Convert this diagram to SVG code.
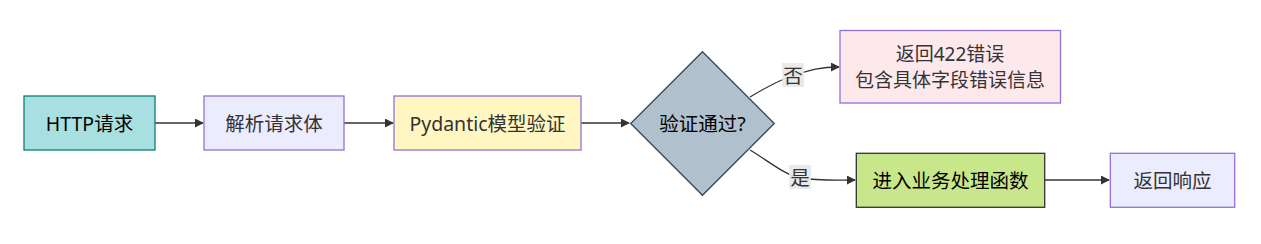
<svg xmlns="http://www.w3.org/2000/svg" width="1261" height="244" viewBox="0 0 1261 244">
<defs>
<marker id="arr" viewBox="0 0 10 10" refX="9" refY="5" markerWidth="9" markerHeight="9" markerUnits="userSpaceOnUse" orient="auto"><path d="M0,0 L10,5 L0,10 z" fill="#333"/></marker>
<style>
text{font-family:"Noto Sans","Noto Sans CJK SC",sans-serif;font-size:19.5px;fill:#333;text-anchor:middle;dominant-baseline:central}
.e{fill:none;stroke:#333;stroke-width:1.3;marker-end:url(#arr)}
.lb{fill:#e8e8e8;opacity:0.9}
</style>
</defs>
<rect width="1261" height="244" fill="#fff"/>
<g id="edges">
<path class="e" d="M155,123 L203,123"/>
<path class="e" d="M344,123 L393,123"/>
<path class="e" d="M581,123 L629,123"/>
<path class="e" d="M750,97 C770,85 785,78 795,75 C810,70 820,67 839,67"/>
<path class="e" d="M750,150 C770,162 785,175 800,178 C820,181 835,180 855,180"/>
<path class="e" d="M1045,180 L1109,180"/>
<rect class="lb" x="782" y="63" width="22" height="24"/>
<text x="793" y="75">否</text>
<rect class="lb" x="789" y="165" width="22" height="24"/>
<text x="800" y="177">是</text>
</g>
<g id="n1"><rect x="24" y="96" width="131" height="54" fill="#a8dfe0" stroke="#0e7c7b" stroke-width="1.3"/><text x="89.5" y="123" style="fill:#000">HTTP请求</text></g>
<g id="n2"><rect x="204" y="96" width="140" height="54" fill="#ececff" stroke="#9370db" stroke-width="1.3"/><text x="274" y="123">解析请求体</text></g>
<g id="n3"><rect x="394" y="96" width="187" height="54" fill="#fff6c2" stroke="#9370db" stroke-width="1.3"/><text x="487.5" y="123">Pydantic模型验证</text></g>
<g id="n4"><polygon points="702.5,51.7 774.3,123.5 702.5,195.3 630.7,123.5" fill="#b0c0cc" stroke="#2e4a5e" stroke-width="1.3"/><text x="702.5" y="123.5" style="fill:#000">验证通过?</text></g>
<g id="n5"><rect x="840" y="30.5" width="220.5" height="72.5" fill="#fde8ec" stroke="#9370db" stroke-width="1.3"/><text x="950" y="54" style="font-size:19px">返回422错误</text><text x="950" y="80" style="font-size:19px">包含具体字段错误信息</text></g>
<g id="n6"><rect x="856.3" y="153.3" width="188.4" height="54" fill="#c8e68a" stroke="#333" stroke-width="1.3"/><text x="950.5" y="180.3" style="fill:#000">进入业务处理函数</text></g>
<g id="n7"><rect x="1110.3" y="153.3" width="124.4" height="54" fill="#ececff" stroke="#9370db" stroke-width="1.3"/><text x="1172.5" y="180.3">返回响应</text></g>
</svg>
